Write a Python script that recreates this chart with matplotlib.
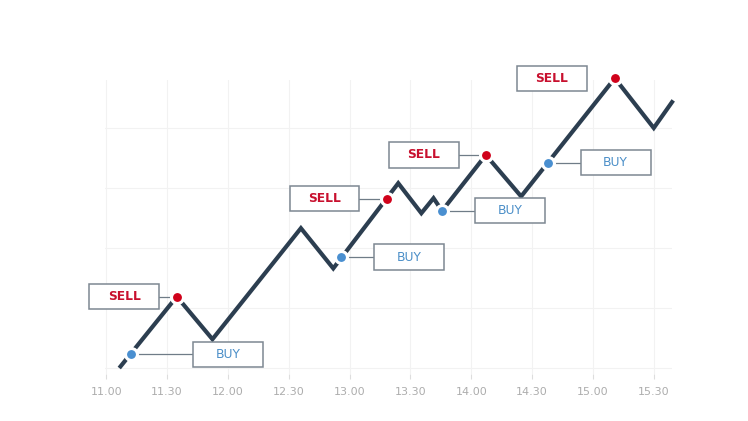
import matplotlib.pyplot as plt
from matplotlib.patches import Rectangle

# price path (time in hours, price in arbitrary units)
path_times = [11.107, 11.58, 11.873, 12.60, 12.866, 13.40, 13.59, 13.69, 13.76,
              14.12, 14.41, 15.18, 15.50, 15.66]
path_values = [0.0, 1.19, 0.48, 2.33, 1.66, 3.08, 2.58, 2.83, 2.62,
               3.55, 2.86, 4.83, 4.0, 4.46]

# signal points
sell_times = [11.58, 13.31, 14.12, 15.18]
sell_values = [1.19, 2.82, 3.55, 4.83]
buy_times = [11.203, 12.93, 13.76, 14.63]
buy_values = [0.233, 1.85, 2.62, 3.42]

# label box centres
sell_box_times = [11.148, 12.794, 13.611, 14.662]
buy_box_times = [12.0, 13.488, 14.317, 15.187]

tick_times = [11.0, 11.5, 12.0, 12.5, 13.0, 13.5, 14.0, 14.5, 15.0, 15.5]
tick_labels = ["11.00", "11.30", "12.00", "12.30", "13.00",
               "13.30", "14.00", "14.30", "15.00", "15.30"]

LINE = "#2c3e50"
RED = "#d0021b"
BLUE = "#4a8fd0"
BOX_EDGE = "#7d8892"

fig = plt.figure(figsize=(7.48, 4.21), dpi=100)
ax = fig.add_axes([0.1404, 0.1116, 0.758, 0.6984])
ax.set_xlim(10.99, 15.65)
ax.set_ylim(-0.1, 4.8)

for s in ax.spines.values():
    s.set_visible(False)

ax.set_xticks(tick_times)
ax.set_xticklabels(tick_labels)
ax.set_yticks([0, 1, 2, 3, 4])
ax.tick_params(axis="x", length=3.5, width=0.8, color="#dddddd",
               labelcolor="#adadad", labelsize=8, pad=6)
ax.tick_params(axis="y", left=False, labelleft=False)
ax.grid(True, color="#f2f2f2", linewidth=0.8)
ax.set_axisbelow(True)

ax.plot(path_times, path_values, color=LINE, linewidth=3, solid_capstyle="butt",
        solid_joinstyle="miter", zorder=3, clip_on=False)

box_w = 0.575
box_h = 0.417


def draw_label(mt, mv, bt, text, color, bold):
    ax.plot([mt, bt], [mv, mv], color="#6f7c87", linewidth=0.9, zorder=2)
    ax.add_patch(Rectangle((bt - box_w / 2, mv - box_h / 2), box_w, box_h,
                           facecolor="white", edgecolor=BOX_EDGE, linewidth=1.1,
                           zorder=4, clip_on=False))
    ax.text(bt, mv, text, color=color, fontsize=8.8,
            fontweight="bold" if bold else "normal",
            ha="center", va="center", zorder=5)


for t, v, bt in zip(sell_times, sell_values, sell_box_times):
    draw_label(t, v, bt, "SELL", "#c8102e", True)
for t, v, bt in zip(buy_times, buy_values, buy_box_times):
    draw_label(t, v, bt, "BUY", "#4a8ec8", False)

ax.plot(sell_times, sell_values, "o", color=RED, markersize=8.6,
        markeredgecolor="white", markeredgewidth=2.2, zorder=6, clip_on=False)
ax.plot(buy_times, buy_values, "o", color=BLUE, markersize=8.6,
        markeredgecolor="white", markeredgewidth=2.2, zorder=6, clip_on=False)

fig.savefig("out.png", dpi=100)
